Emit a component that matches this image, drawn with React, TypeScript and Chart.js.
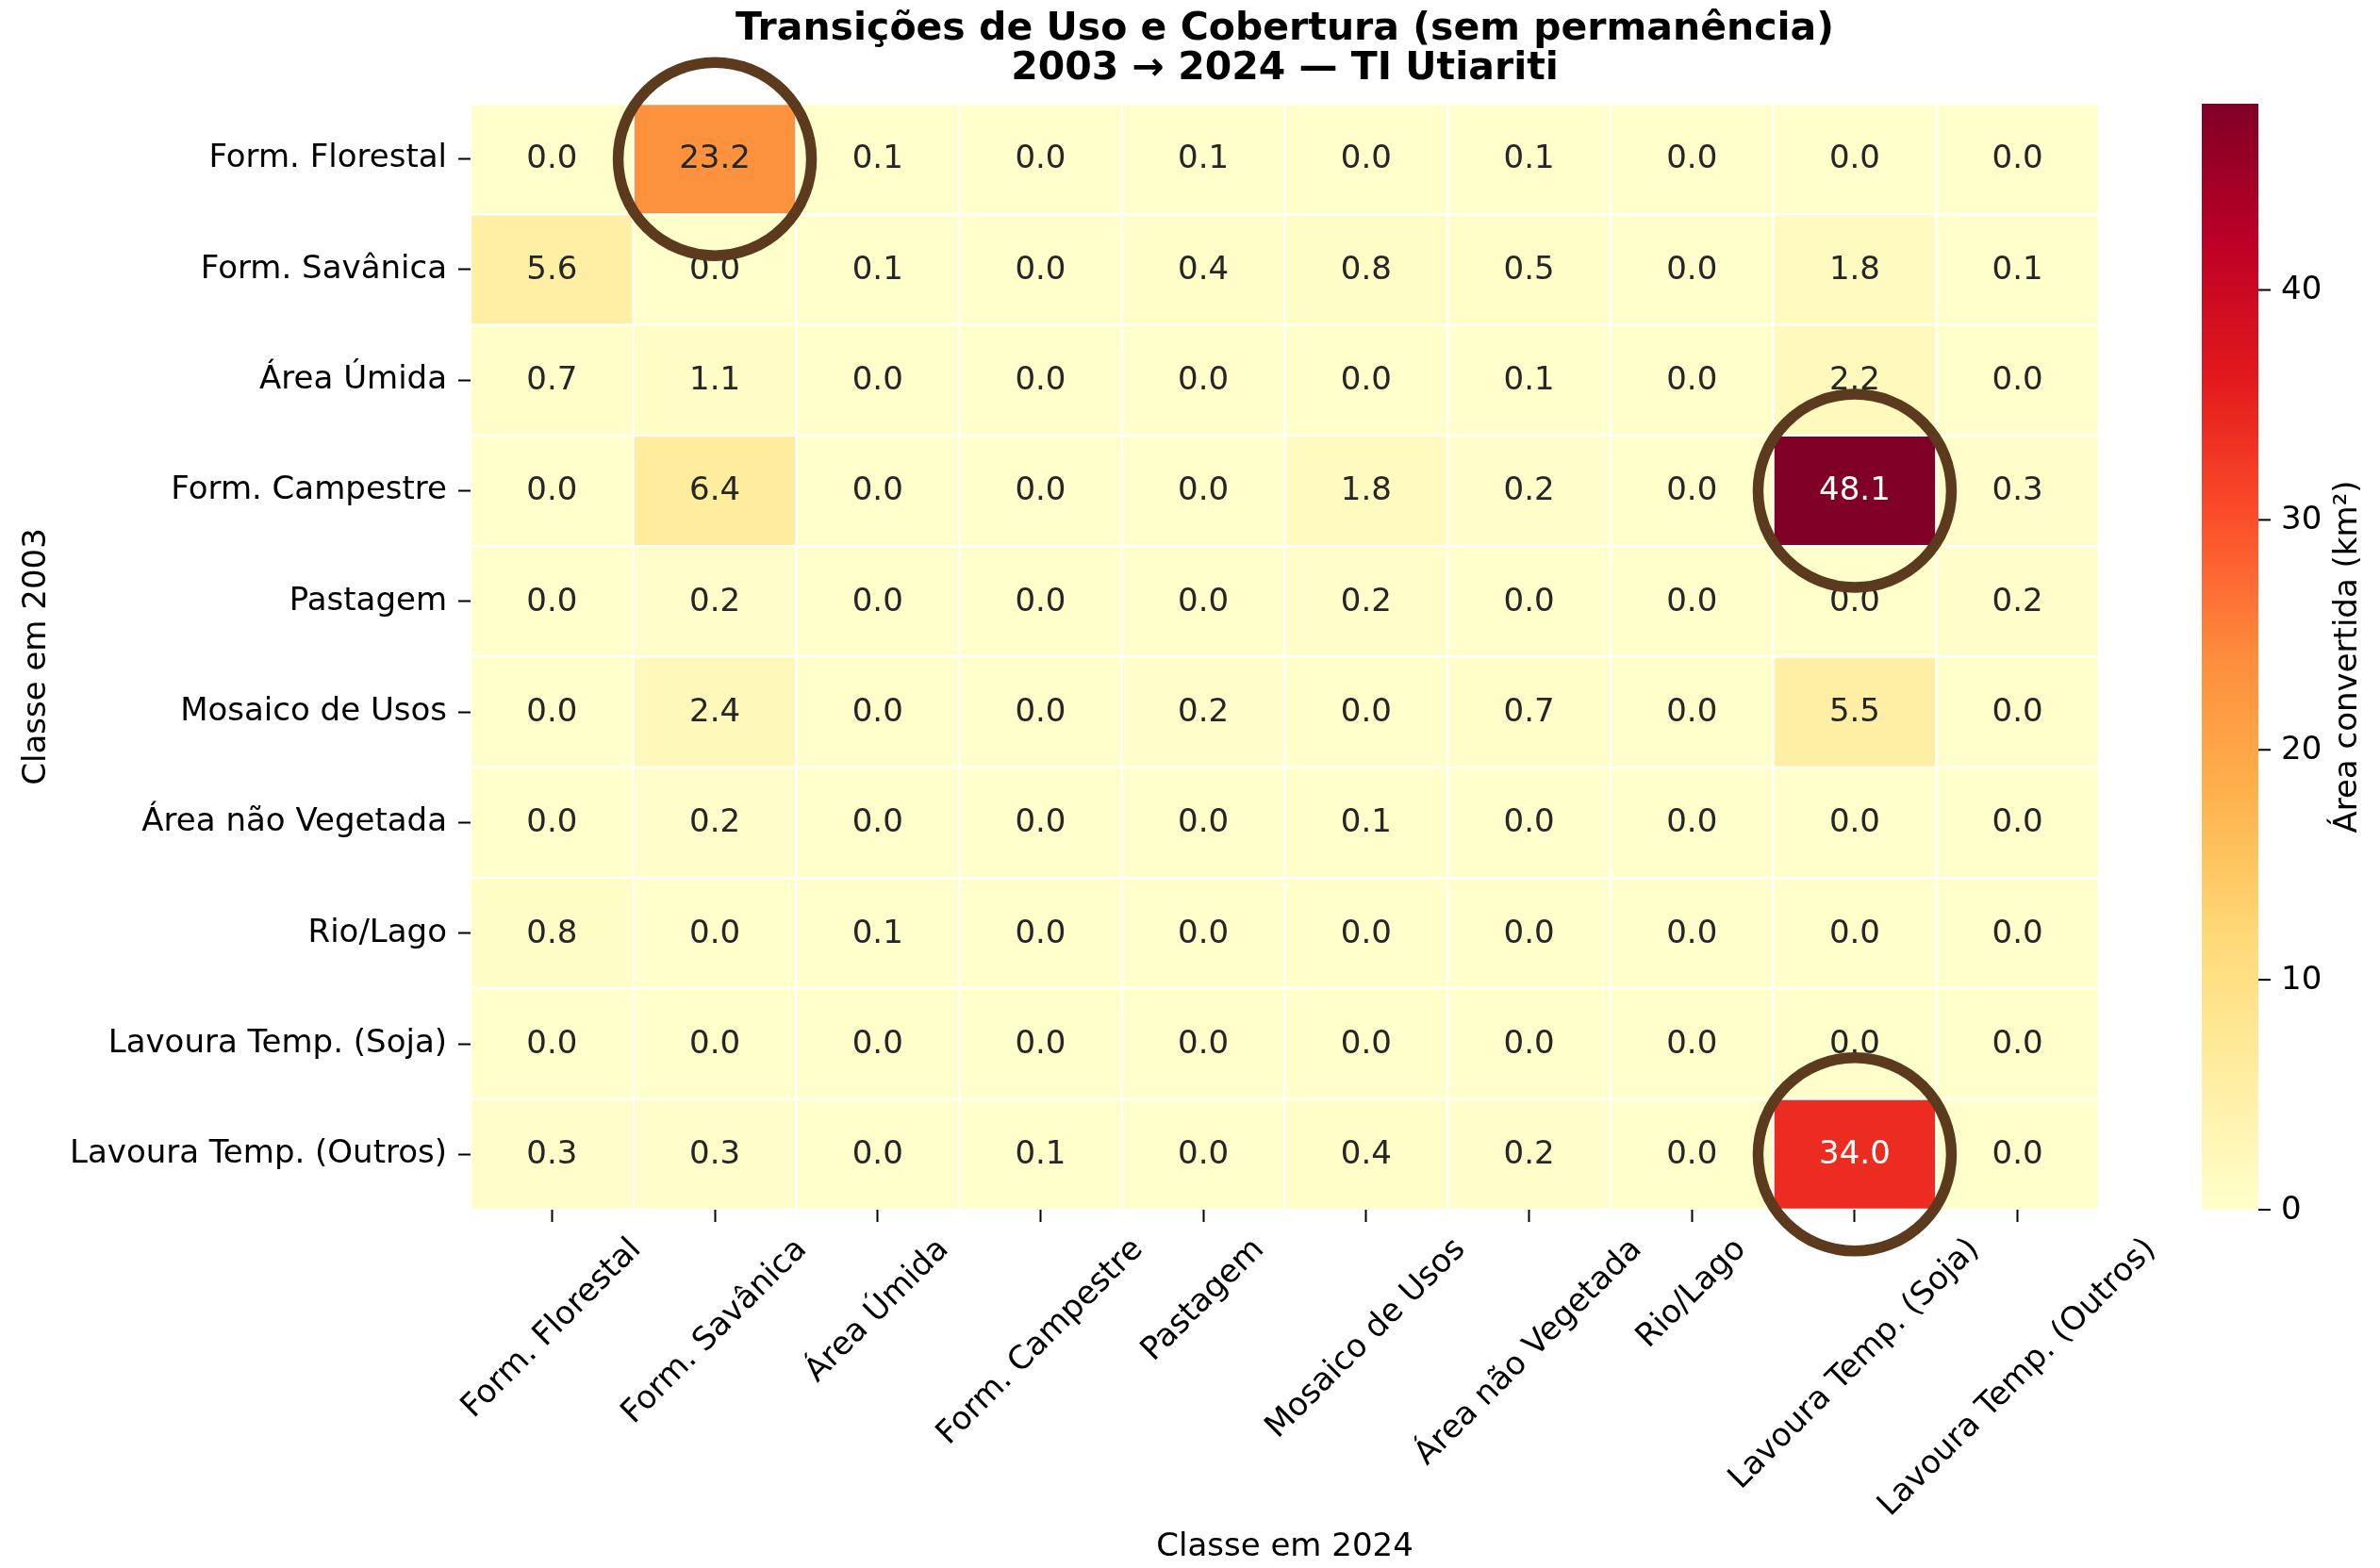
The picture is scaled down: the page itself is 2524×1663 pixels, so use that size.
import React, { useEffect, useRef } from "react";
import { Chart, registerables } from "chart.js";

Chart.register(...registerables);

// ---------- data ----------
const classes2003 = [
  "Form. Florestal",
  "Form. Savânica",
  "Área Úmida",
  "Form. Campestre",
  "Pastagem",
  "Mosaico de Usos",
  "Área não Vegetada",
  "Rio/Lago",
  "Lavoura Temp. (Soja)",
  "Lavoura Temp. (Outros)",
];
const classes2024 = [
  "Form. Florestal",
  "Form. Savânica",
  "Área Úmida",
  "Form. Campestre",
  "Pastagem",
  "Mosaico de Usos",
  "Área não Vegetada",
  "Rio/Lago",
  "Lavoura Temp. (Soja)",
  "Lavoura Temp. (Outros)",
];

const fromFlorestal = [0.0, 23.2, 0.1, 0.0, 0.1, 0.0, 0.1, 0.0, 0.0, 0.0];
const fromSavanica = [5.6, 0.0, 0.1, 0.0, 0.4, 0.8, 0.5, 0.0, 1.8, 0.1];
const fromUmida = [0.7, 1.1, 0.0, 0.0, 0.0, 0.0, 0.1, 0.0, 2.2, 0.0];
const fromCampestre = [0.0, 6.4, 0.0, 0.0, 0.0, 1.8, 0.2, 0.0, 48.1, 0.3];
const fromPastagem = [0.0, 0.2, 0.0, 0.0, 0.0, 0.2, 0.0, 0.0, 0.0, 0.2];
const fromMosaico = [0.0, 2.4, 0.0, 0.0, 0.2, 0.0, 0.7, 0.0, 5.5, 0.0];
const fromNaoVegetada = [0.0, 0.2, 0.0, 0.0, 0.0, 0.1, 0.0, 0.0, 0.0, 0.0];
const fromRioLago = [0.8, 0.0, 0.1, 0.0, 0.0, 0.0, 0.0, 0.0, 0.0, 0.0];
const fromSoja = [0.0, 0.0, 0.0, 0.0, 0.0, 0.0, 0.0, 0.0, 0.0, 0.0];
const fromOutros = [0.3, 0.3, 0.0, 0.1, 0.0, 0.4, 0.2, 0.0, 34.0, 0.0];

const matrix = [
  fromFlorestal,
  fromSavanica,
  fromUmida,
  fromCampestre,
  fromPastagem,
  fromMosaico,
  fromNaoVegetada,
  fromRioLago,
  fromSoja,
  fromOutros,
];

// highlighted cells: [row (2003), column (2024)]
const highlighted = [
  [0, 1],
  [3, 8],
  [9, 8],
];

const colorbarTicks = [0, 10, 20, 30, 40];

const titleLines = [
  "Transições de Uso e Cobertura (sem permanência)",
  "2003 → 2024 — TI Utiariti",
];
const xAxisTitle = "Classe em 2024";
const yAxisTitle = "Classe em 2003";
const colorbarTitle = "Área convertida (km²)";

// ---------- styling ----------
const W = 2524;
const H = 1663;
const FONT = '"DejaVu Sans", "Liberation Sans", sans-serif';
const FS = 34;
const TITLE_FS = 41;
const TICK_LEN = 13;
const CIRCLE_COLOR = "#5c3a1e";
const CIRCLE_R = 102.5;
const CIRCLE_W = 11.5;
const CB_LEFT = 2335;
const CB_RIGHT = 2395;

const YLORRD = [
  [255, 255, 204],
  [255, 237, 160],
  [254, 217, 118],
  [254, 178, 76],
  [253, 141, 60],
  [252, 78, 42],
  [227, 26, 28],
  [189, 0, 38],
  [128, 0, 38],
];

const vmin = 0;
const vmax = Math.max(...matrix.map((r) => Math.max(...r)));

function cmapRGB(t: number): number[] {
  let tt = Math.max(0, Math.min(1, t));
  const idx = Math.min(255, Math.floor(tt * 256));
  tt = idx / 255;
  const p = tt * 8;
  const i = Math.min(7, Math.floor(p));
  const f = p - i;
  const a = YLORRD[i];
  const b = YLORRD[i + 1];
  return [0, 1, 2].map((k) => a[k] + (b[k] - a[k]) * f);
}
function rgbStr(c: number[]) {
  return `rgb(${Math.round(c[0])},${Math.round(c[1])},${Math.round(c[2])})`;
}
function colorFor(v: number) {
  return rgbStr(cmapRGB((v - vmin) / (vmax - vmin)));
}
function luminance(c: number[]) {
  const lin = c.map((x) => {
    const s = x / 255;
    return s <= 0.03928 ? s / 12.92 : Math.pow((s + 0.055) / 1.055, 2.4);
  });
  return 0.2126 * lin[0] + 0.7152 * lin[1] + 0.0722 * lin[2];
}

const overlayPlugin = {
  id: "heatmapOverlay",
  afterDatasetsDraw(chart: any) {
    const ctx = chart.ctx;
    const xs = chart.scales.x;
    const ys = chart.scales.y;
    // annotations
    ctx.save();
    ctx.font = `${FS}px ${FONT}`;
    ctx.textAlign = "center";
    ctx.textBaseline = "middle";
    matrix.forEach((row, i) => {
      row.forEach((v, j) => {
        const c = cmapRGB((v - vmin) / (vmax - vmin));
        ctx.fillStyle = luminance(c) > 0.408 ? "#262626" : "#ffffff";
        ctx.fillText(v.toFixed(1), xs.getPixelForValue(j + 0.5), ys.getPixelForValue(i) + 1);
      });
    });
    ctx.restore();
    // highlight circles
    ctx.save();
    ctx.strokeStyle = CIRCLE_COLOR;
    ctx.lineWidth = CIRCLE_W;
    highlighted.forEach(([i, j]) => {
      ctx.beginPath();
      ctx.arc(xs.getPixelForValue(j + 0.5), ys.getPixelForValue(i), CIRCLE_R, 0, Math.PI * 2);
      ctx.stroke();
    });
    ctx.restore();
  },
  afterDraw(chart: any) {
    const ctx = chart.ctx;
    const xs = chart.scales.x;
    const area = chart.chartArea;
    const cx = (area.left + area.right) / 2;

    // rotated x tick labels (center aligned, 45°)
    ctx.save();
    ctx.font = `${FS}px ${FONT}`;
    ctx.fillStyle = "#000";
    ctx.textAlign = "center";
    ctx.textBaseline = "alphabetic";
    const h = FS * 1.164;
    const top = area.bottom + TICK_LEN + 10;
    classes2024.forEach((lab, j) => {
      const w = ctx.measureText(lab).width;
      const bw = (w + h) * Math.SQRT1_2;
      const x = xs.getPixelForValue(j + 0.5);
      const y = top + bw / 2;
      ctx.save();
      ctx.translate(x, y);
      ctx.rotate(-Math.PI / 4);
      ctx.fillText(lab, 0, FS * 0.26);
      ctx.restore();
    });
    ctx.restore();

    // axis titles
    ctx.save();
    ctx.font = `${FS}px ${FONT}`;
    ctx.fillStyle = "#000";
    ctx.textAlign = "center";
    ctx.textBaseline = "middle";
    ctx.fillText(xAxisTitle, cx, 1641);
    ctx.save();
    ctx.translate(39, (area.top + area.bottom) / 2);
    ctx.rotate(-Math.PI / 2);
    ctx.fillText(yAxisTitle, 0, 0);
    ctx.restore();
    ctx.restore();

    // title
    ctx.save();
    ctx.font = `bold ${TITLE_FS}px ${FONT}`;
    ctx.fillStyle = "#000";
    ctx.textAlign = "center";
    ctx.textBaseline = "alphabetic";
    ctx.fillText(titleLines[0], cx, 42);
    ctx.fillText(titleLines[1], cx, 84);
    ctx.restore();

    // colorbar
    const cbTop = area.top;
    const cbBottom = area.bottom;
    const yFor = (v: number) => cbBottom - ((v - vmin) / (vmax - vmin)) * (cbBottom - cbTop);
    ctx.save();
    const grad = ctx.createLinearGradient(0, cbBottom, 0, cbTop);
    YLORRD.forEach((c, k) => grad.addColorStop(k / (YLORRD.length - 1), rgbStr(c)));
    ctx.fillStyle = grad;
    ctx.fillRect(CB_LEFT, cbTop, CB_RIGHT - CB_LEFT, cbBottom - cbTop);
    ctx.strokeStyle = "#000";
    ctx.lineWidth = 2;
    ctx.font = `${FS}px ${FONT}`;
    ctx.fillStyle = "#000";
    ctx.textAlign = "left";
    ctx.textBaseline = "middle";
    colorbarTicks.forEach((t) => {
      const y = yFor(t);
      ctx.beginPath();
      ctx.moveTo(CB_RIGHT, y);
      ctx.lineTo(CB_RIGHT + TICK_LEN, y);
      ctx.stroke();
      ctx.fillText(String(t), CB_RIGHT + 24, y + 1);
    });
    ctx.translate(2490, (cbTop + cbBottom) / 2);
    ctx.rotate(-Math.PI / 2);
    ctx.textAlign = "center";
    ctx.fillText(colorbarTitle, 0, 0);
    ctx.restore();
  },
};

export default function App() {
  const ref = useRef<HTMLCanvasElement | null>(null);

  useEffect(() => {
    if (!ref.current) return;
    const datasets = classes2024.map((_, j) => ({
      label: classes2024[j],
      data: classes2003.map(() => [j, j + 1]),
      backgroundColor: matrix.map((row) => colorFor(row[j])),
      borderColor: "#ffffff",
      borderWidth: 1.5,
      borderSkipped: false,
      grouped: false,
      barPercentage: 1,
      categoryPercentage: 1,
    }));

    const chart = new Chart(ref.current, {
      type: "bar",
      data: { labels: classes2003, datasets: datasets as any },
      plugins: [overlayPlugin],
      options: {
        indexAxis: "y",
        responsive: false,
        animation: false,
        devicePixelRatio: 1,
        layout: { padding: { left: 0, top: 110, right: W - 2226, bottom: 0 } },
        plugins: {
          legend: { display: false },
          tooltip: { enabled: false },
          title: { display: false },
        },
        scales: {
          x: {
            type: "linear",
            position: "bottom",
            min: 0,
            max: classes2024.length,
            border: { display: false },
            grid: {
              drawOnChartArea: false,
              drawTicks: true,
              tickLength: TICK_LEN,
              tickColor: "#000",
              tickWidth: 2,
            },
            ticks: { display: false },
            afterBuildTicks: (scale: any) => {
              scale.ticks = classes2024.map((_, j) => ({ value: j + 0.5 }));
            },
            afterFit: (scale: any) => {
              scale.height = H - 1283;
            },
          },
          y: {
            type: "category",
            offset: true,
            border: { display: false },
            grid: {
              offset: false,
              drawOnChartArea: false,
              drawTicks: true,
              tickLength: TICK_LEN,
              tickColor: "#000",
              tickWidth: 2,
            },
            ticks: {
              color: "#000",
              font: { family: FONT, size: FS },
              padding: 12,
            },
            afterFit: (scale: any) => {
              scale.width = 499;
            },
          },
        },
      } as any,
    });
    return () => chart.destroy();
  }, []);

  return (
    <div
      style={{
        position: "absolute",
        left: 0,
        top: 0,
        width: W,
        height: H,
        background: "#ffffff",
      }}
    >
      <canvas ref={ref} width={W} height={H} style={{ display: "block", width: W, height: H }} />
    </div>
  );
}
